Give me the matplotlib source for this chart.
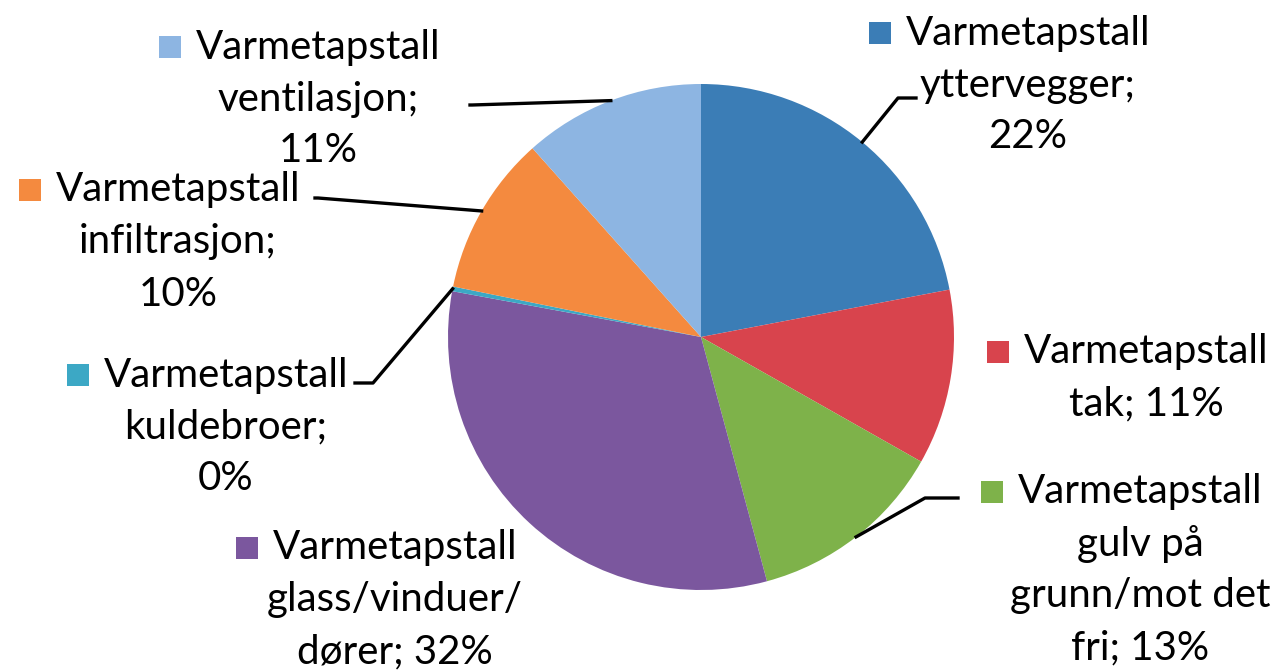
import numpy as np
import matplotlib.pyplot as plt

# data: share of heat loss per building part
categories = ["yttervegger", "tak", "gulv på grunn/mot det fri", "glass/vinduer/dører",
              "kuldebroer", "infiltrasjon", "ventilasjon"]
shares = [22.0, 11.2, 12.6, 32.1, 0.3, 10.2, 11.6]
label_lines = [
    ["Varmetapstall", "yttervegger;", "22%"],
    ["Varmetapstall", "tak; 11%"],
    ["Varmetapstall", "gulv på", "grunn/mot det", "fri; 13%"],
    ["Varmetapstall", "glass/vinduer/", "dører; 32%"],
    ["Varmetapstall", "kuldebroer;", "0%"],
    ["Varmetapstall", "infiltrasjon;", "10%"],
    ["Varmetapstall", "ventilasjon;", "11%"],
]
colors = ["#3b7db6", "#d8444d", "#7eb24a", "#7b579e", "#3ca8c5", "#f48a3f", "#8db5e2"]

# layout in pixels (from top-left)
W, H = 1278, 671
cx, cy, R = 701, 337, 253
label_pos = [(1028, 33), (1146, 352), (1140, 492), (395, 548), (226, 375), (178, 190), (318, 47)]
# leader: (text end x, y, elbow x) or None
leaders = [(916, 98, 898), None, (958, 498, 925), None, (355, 383, 373), (315, 198, 318), (470, 105, 472)]
line_gap = 52


def fy(y):
    return H - y


fig = plt.figure(figsize=(W / 100, H / 100), dpi=100)
ax = fig.add_axes([0, 0, 1, 1])
wedges, _ = ax.pie(shares, colors=colors, startangle=90, counterclock=False,
                   center=(cx, fy(cy)), radius=R, wedgeprops=dict(linewidth=0))
ax.set_xlim(0, W)
ax.set_ylim(0, H)
ax.set_aspect("equal")
ax.axis("off")

font = "Lato"
fs = 29
first_lines = []
for lines, (x, y) in zip(label_lines, label_pos):
    for i, s in enumerate(lines):
        t = ax.text(x, fy(y + i * line_gap), s, ha="center", va="center",
                    fontsize=fs, family=font, color="black")
        if i == 0:
            first_lines.append(t)

fig.canvas.draw()
renderer = fig.canvas.get_renderer()
inv = ax.transData.inverted()
for t, col, (x, y) in zip(first_lines, colors, label_pos):
    bb = t.get_window_extent(renderer)
    x0 = inv.transform((bb.x0, bb.y0))[0]
    ax.scatter([x0 - 26], [fy(y)], marker="s", s=230, color=col, linewidths=0)

# leader lines to the wedge edges
for w, ld in zip(wedges, leaders):
    if ld is None:
        continue
    ang = np.deg2rad((w.theta1 + w.theta2) / 2)
    ex = cx + R * np.cos(ang)
    ey = fy(cy) + R * np.sin(ang)
    tx, ty, elbow = ld
    ax.plot([tx, elbow, ex], [fy(ty), fy(ty), ey], color="black", lw=2.4)

fig.savefig("out.png", dpi=100)
